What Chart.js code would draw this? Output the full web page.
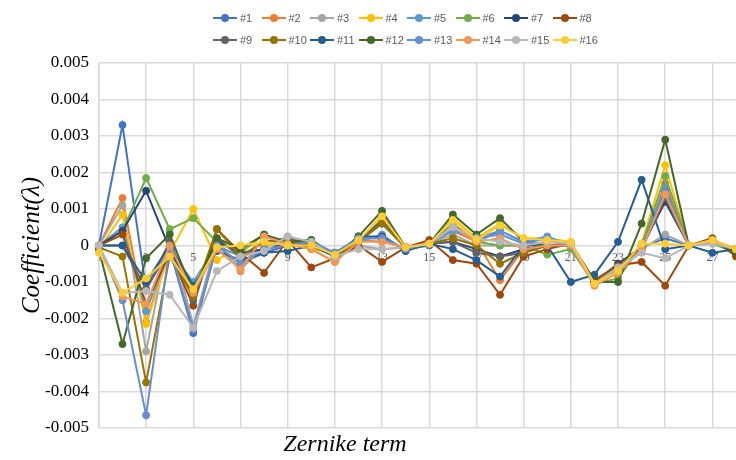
<!DOCTYPE html>
<html>
<head>
<meta charset="utf-8">
<script src="https://cdn.jsdelivr.net/npm/chart.js@4.4.1/dist/chart.umd.min.js"></script>
<style>
  body { margin: 0; background: #fff; }
  #wrap { position: relative; width: 736px; height: 460px; overflow: hidden; }
  #legend { position: absolute; left: 213px; top: 7px; width: 400px;
    font-family: "Liberation Sans", Arial, sans-serif; font-size: 11px; color: #595959; }
  .row { display: flex; height: 22px; align-items: center; }
  .item { width: 48.5px; display: flex; align-items: center; }
  .mark { position: relative; width: 24px; height: 2px; margin-right: 3px; }
  .mark span { position: absolute; left: 8px; top: -3px; width: 8px; height: 8px; border-radius: 50%; }
</style>
</head>
<body>
<div id="wrap">
  <canvas id="myChart" width="736" height="460"></canvas>
  <div id="legend"></div>
</div>
<script>
// Zernike terms 1..28
var terms = ["1","2","3","4","5","6","7","8","9","10","11","12","13","14","15","16","17","18","19","20","21","22","23","24","25","26","27","28"];

var seriesNames = ["#1","#2","#3","#4","#5","#6","#7","#8","#9","#10","#11","#12","#13","#14","#15","#16"];

var s1 = [0, 0.0033, -0.0012, -0.0001, -0.0024, 0, -0.0005, -0.0002, 0, 0.0001, -0.0002, 0.0002, 0.0002, -0.0001, 0, 0.0005, 0.0001, 0.0004, 0.0001, 0.0002, 0, -0.00105, -0.0006, -0.00005, 0.0002, 0, 0.0001, -0.0001];
var s2 = [0, 0.0013, -0.0021, -0.0001, -0.0014, 0.0001, -0.0007, 0.00025, 0.00005, -0.0001, -0.00045, 0.00015, 0.0001, -0.00005, 0.00005, 0.0004, 0.0001, -0.00095, -0.0001, 0, 0, -0.0011, -0.0007, -0.0001, 0.0017, 0, 0.0001, -0.0001];
var s3 = [0, 0.0011, -0.0029, 0.00035, -0.0022, 0.00015, -0.00065, -0.00005, 0.00025, 0.00005, -0.0003, 0, -0.0001, -0.00005, 0.00005, 0.0003, 0, 0, 0, 0.0001, 0.00005, -0.00105, -0.0007, -0.0001, 0.0003, 0, 0.0001, -0.0001];
var s4 = [-0.0001, 0.00085, -0.00215, -0.0002, 0.001, -0.0004, 0, 0, 0.00005, -0.0001, -0.0002, 0.0001, 0.00085, -0.00005, 0.00005, 0.00075, 0.0002, 0.0006, 0.0002, 0.0002, 0.0001, -0.00105, -0.0007, 0.00005, 0.0022, 0, 0.00015, -0.0001];
var s5 = [0, 0.0005, -0.0018, -0.00015, -0.001, 0, -0.0003, -0.0001, 0.00005, 0.00015, -0.0003, 0.0001, 0.0003, -0.00015, 0.00005, 0.0004, 0.0002, 0.0004, 0.0001, 0.00025, 0, -0.001, -0.00065, 0, 0.0016, 0, 0.0001, -0.0001];
var s6 = [0, 0.0004, 0.00185, 0.00045, 0.00075, 0.0001, -0.0002, 0.0003, 0.00005, 0.00015, -0.00025, 0.00015, 0.0007, -0.00005, 0.00005, 0.0006, 0.0001, 0, 0, -0.00025, -0.0001, -0.00105, -0.0009, 0, 0.0019, 0, 0.00005, -0.0002];
var s7 = [0, 0.0004, 0.0015, -0.0001, -0.0013, 0.0001, -0.0002, -0.0001, 0.00005, 0, -0.0002, 0.00015, 0.0006, -0.00005, 0.00005, 0.0001, -0.0001, -0.0003, -0.0001, 0, 0.00005, -0.001, -0.0005, -0.00005, 0.0012, 0, 0.0001, -0.0001];
var s8 = [0, 0.0003, -0.0016, -0.0002, -0.00165, 0.00045, -0.0002, -0.00075, 0.00015, -0.0006, -0.00035, 0, -0.00045, -0.00005, 0.00015, -0.0004, -0.0005, -0.00135, -0.0003, -0.0001, 0.00005, -0.00095, -0.00055, -0.00045, -0.0011, 0, 0.0002, -0.0003];
var s9 = [0, 0, -0.0012, 0.0001, -0.0015, 0.0002, -0.0003, 0.0001, 0.0002, 0, -0.0002, 0.0001, 0.0007, -0.00005, 0.00005, 0.0001, -0.0002, -0.0003, -0.0002, 0, 0.00005, -0.001, -0.0006, -0.0001, 0.0013, 0, 0.0001, -0.0001];
var s10 = [-0.00005, -0.0003, -0.00375, -0.0003, -0.0014, 0.00045, -0.0003, 0.0001, 0.0001, 0, -0.0003, 0.0001, 0.0006, -0.00005, 0.00005, 0.0002, 0, -0.0005, -0.0002, 0, 0, -0.001, -0.0006, -0.0001, 0.0015, 0, 0.00015, -0.0001];
var s11 = [0, 0, -0.001, 0, -0.0011, -0.00015, -0.0004, -0.0002, -0.00015, 0, -0.0003, 0.00025, 0.00025, -0.00015, 0.00005, -0.0001, -0.0004, -0.00085, 0, 0, -0.001, -0.0008, 0.0001, 0.0018, -0.0001, 0, -0.0002, -0.0001];
var s12 = [-0.0001, -0.0027, -0.00035, 0.0003, -0.0013, 0.0002, -0.0001, 0.0003, 0.0001, 0.00015, -0.0003, 0.00025, 0.00095, -0.00005, 0.00005, 0.00085, 0.0003, 0.00075, 0.0001, 0, 0, -0.001, -0.001, 0.0006, 0.0029, 0, 0.0001, -0.0002];
var s13 = [0, -0.0015, -0.00465, -0.00005, -0.0023, 0, -0.0005, -0.0001, 0, 0.0001, -0.0002, 0.0002, 0.0002, -0.0001, 0.00005, 0.00045, 0.0002, 0.0003, 0.00005, 0.0002, 0, -0.00105, -0.0007, -0.0001, 0.0015, 0, 0.0001, -0.0001];
var s14 = [0, -0.0014, -0.0016, 0, -0.0013, -0.0001, -0.00065, 0.00025, 0.00005, -0.0001, -0.00045, 0.0001, 0.0001, -0.00005, 0.00005, 0.0005, 0.0001, 0.0002, -0.0001, 0, 0, -0.0011, -0.00075, -0.0001, 0.0014, 0, 0.0001, -0.0001];
var s15 = [0, -0.0013, -0.00125, -0.00135, -0.00225, -0.0007, -0.0003, -0.00015, 0.00025, 0.0001, -0.0003, -0.0001, -0.0001, -0.00005, 0.00005, 0.0005, 0.0002, 0.0001, 0, 0.0001, 0.00005, -0.00105, -0.0006, -0.0002, -0.00035, 0, 0.00005, -0.0001];
var s16 = [-0.0002, -0.0013, -0.0009, -0.0003, -0.0012, -0.00005, 0, 0.0001, 0, 0, -0.00025, 0.00015, 0.0008, -0.00005, 0.00005, 0.0007, 0.00015, 0.00055, 0.0002, 0.00015, 0.0001, -0.00105, -0.0007, 0.00005, 0.00005, 0, 0.00015, -0.0001];

var allSeries = [s1, s2, s3, s4, s5, s6, s7, s8, s9, s10, s11, s12, s13, s14, s15, s16];

// Office palette
var colors = ["#4472C4", "#ED7D31", "#A5A5A5", "#FFC000", "#5B9BD5", "#70AD47", "#264478", "#9E480E",
              "#636363", "#997300", "#255E91", "#43682B", "#698ED0", "#F1975A", "#B7B7B7", "#FFCD33"];

var datasets = allSeries.map(function (data, i) {
  return {
    label: seriesNames[i],
    data: data,
    borderColor: colors[i],
    backgroundColor: colors[i],
    borderWidth: 2,
    pointRadius: 3.5,
    pointBorderWidth: 1,
    pointHoverRadius: 3.5,
    order: 16 - i,
    tension: 0
  };
});

// x title drawn under the plot (x axis sits on the zero line)
var xTitle = {
  id: "xTitle",
  afterDraw: function (chart) {
    var c = chart.ctx;
    c.save();
    c.font = "italic 24px 'Liberation Serif'";
    c.fillStyle = "#000";
    c.textAlign = "center";
    c.textBaseline = "middle";
    c.fillText("Zernike term", 345, 445);
    c.restore();
  }
};

var ctx = document.getElementById("myChart").getContext("2d");
var myChart = new Chart(ctx, {
  type: "line",
  data: { labels: terms, datasets: datasets },
  plugins: [xTitle],
  options: {
    responsive: false,
    animation: false,
    layout: { autoPadding: false, padding: { top: 63, bottom: 32, left: 17, right: 0 } },
    plugins: { legend: { display: false }, tooltip: { enabled: false } },
    scales: {
      x: {
        type: "category",
        position: { y: 0 },
        offset: false,
        grid: {
          color: function (c) { return c.index % 2 === 0 ? "#d9d9d9" : "rgba(0,0,0,0)"; },
          lineWidth: 1.5,
          drawTicks: true,
          tickLength: 5,
          tickColor: "rgba(0,0,0,0)"
        },
        border: { display: false },
        ticks: {
          autoSkip: false,
          maxRotation: 0,
          padding: 0,
          color: "#595959",
          font: { family: "Liberation Serif", size: 12 },
          callback: function (v, i) { return i % 2 === 0 ? terms[i] : ""; }
        }
      },
      y: {
        min: -0.005,
        max: 0.005,
        grid: { color: "#d9d9d9", lineWidth: 1.5, drawTicks: false },
        border: { color: "#d9d9d9", width: 1.5 },
        ticks: {
          stepSize: 0.001,
          padding: 10,
          color: "#000",
          font: { family: "Liberation Serif", size: 17 },
          callback: function (v) { return String(parseFloat(v.toFixed(3))); }
        },
        title: {
          display: true,
          text: "Coefficient(λ)",
          color: "#000",
          font: { family: "Liberation Serif", size: 25, style: "italic" },
          padding: { top: 0, bottom: -12 }
        }
      }
    }
  }
});

// HTML legend, two rows of eight
var legend = document.getElementById("legend");
for (var r = 0; r < 2; r++) {
  var row = document.createElement("div");
  row.className = "row";
  for (var k = 0; k < 8; k++) {
    var i = r * 8 + k;
    var item = document.createElement("div");
    item.className = "item";
    var mark = document.createElement("div");
    mark.className = "mark";
    mark.style.background = colors[i];
    var dot = document.createElement("span");
    dot.style.background = colors[i];
    mark.appendChild(dot);
    var txt = document.createElement("span");
    txt.textContent = seriesNames[i];
    item.appendChild(mark);
    item.appendChild(txt);
    row.appendChild(item);
  }
  legend.appendChild(row);
}
</script>
</body>
</html>
